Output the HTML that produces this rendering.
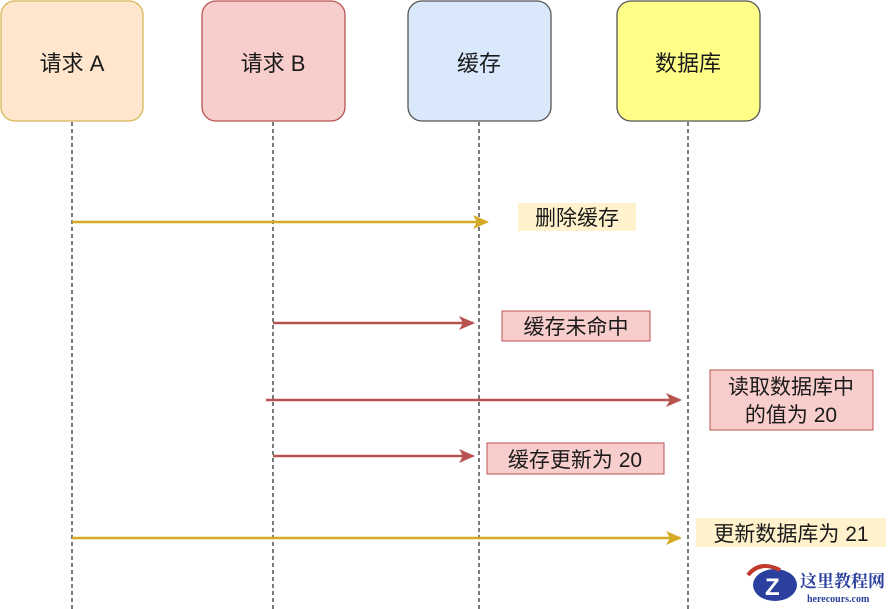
<!DOCTYPE html>
<html><head><meta charset="utf-8"><style>
html,body{margin:0;padding:0;background:#fff;}
svg{display:block;}
text{font-family:"Liberation Sans","Noto Sans CJK SC",sans-serif;fill:#1a1a1a;}
</style></head><body>
<svg width="890" height="609" viewBox="0 0 890 609" xmlns="http://www.w3.org/2000/svg">
<defs>
<marker id="ay" markerWidth="16" markerHeight="14" refX="14" refY="7" orient="auto" markerUnits="userSpaceOnUse"><path d="M0,0 L16,7 L0,14 L4,7 Z" fill="#d6a924"/></marker>
<marker id="ar" markerWidth="16" markerHeight="14" refX="14" refY="7" orient="auto" markerUnits="userSpaceOnUse"><path d="M0,0 L16,7 L0,14 L4,7 Z" fill="#b85450"/></marker>
</defs>
<g stroke="#333" stroke-width="1.3" stroke-dasharray="4 3">
<line x1="72" y1="122" x2="72" y2="609"/>
<line x1="273" y1="122" x2="273" y2="609"/>
<line x1="479" y1="122" x2="479" y2="609"/>
<line x1="688" y1="122" x2="688" y2="609"/>
</g>
<rect x="1" y="1" width="142" height="120" rx="14" fill="#ffe6cc" stroke="#d6b656" stroke-width="1.3"/>
<rect x="202" y="1" width="143" height="120" rx="14" fill="#f8cecc" stroke="#b85450" stroke-width="1.3"/>
<rect x="408" y="1" width="143" height="120" rx="14" fill="#dae8fc" stroke="#555" stroke-width="1.3"/>
<rect x="617" y="1" width="143" height="120" rx="14" fill="#ffff88" stroke="#555" stroke-width="1.3"/>
<g font-size="22" text-anchor="middle">
<text x="72" y="71">请求 A</text>
<text x="273" y="71">请求 B</text>
<text x="479" y="71">缓存</text>
<text x="688" y="71">数据库</text>
</g>
<g stroke-width="2.4" fill="none">
<line x1="72" y1="222" x2="487" y2="222" stroke="#d6a924" marker-end="url(#ay)"/>
<line x1="273" y1="323" x2="473" y2="323" stroke="#b85450" marker-end="url(#ar)"/>
<line x1="266" y1="400" x2="680" y2="400" stroke="#b85450" marker-end="url(#ar)"/>
<line x1="273" y1="456" x2="473" y2="456" stroke="#b85450" marker-end="url(#ar)"/>
<line x1="72" y1="538" x2="680" y2="538" stroke="#d6a924" marker-end="url(#ay)"/>
</g>
<rect x="518" y="203" width="118" height="28" fill="#fff2cc"/>
<rect x="502" y="311" width="148" height="30" fill="#f8cecc" stroke="#b85450" stroke-width="1"/>
<rect x="710" y="370" width="163" height="60" fill="#f8cecc" stroke="#b85450" stroke-width="1"/>
<rect x="487" y="443" width="177" height="31" fill="#f8cecc" stroke="#b85450" stroke-width="1"/>
<rect x="696" y="518" width="190" height="29" fill="#fff2cc"/>
<g font-size="21" text-anchor="middle">
<text x="577" y="225">删除缓存</text>
<text x="576" y="334">缓存未命中</text>
<text x="791" y="394">读取数据库中</text>
<text x="791" y="422">的值为 20</text>
<text x="575" y="467">缓存更新为 20</text>
<text x="791" y="541">更新数据库为 21</text>
</g>
<ellipse cx="775" cy="585" rx="22" ry="16" fill="#2b3f9e"/>
<path d="M748,575 Q760,560 780,570" stroke="#c0392b" stroke-width="4" fill="none"/>
<text x="765" y="595" font-size="24" font-weight="bold" style="fill:#fff">Z</text>
<text x="800" y="587" font-size="17" font-weight="bold" style="fill:#2b3f9e;font-family:'Noto Serif CJK SC',serif">这里教程网</text>
<text x="807" y="602" font-size="10" font-weight="bold" style="fill:#2b3f9e;font-family:'Liberation Serif',serif">herecours.com</text>
</svg>
</body></html>
